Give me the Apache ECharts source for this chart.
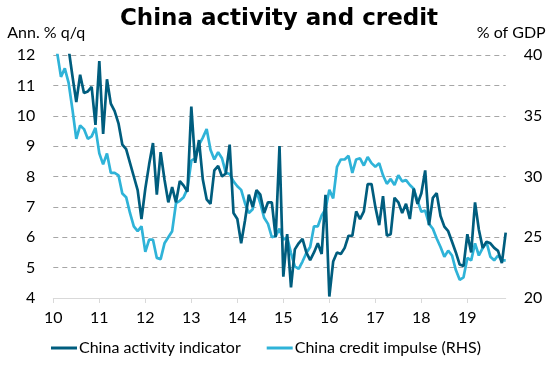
<!DOCTYPE html>
<html>
<head>
<meta charset="utf-8">
<script src="https://cdn.jsdelivr.net/npm/echarts@6/dist/echarts.min.js"></script>
<style>html,body{margin:0;padding:0;background:#fff;}#c{width:558px;height:366px;}</style>
</head>
<body>
<div id="c"></div>
<script>
var yearLabels = ['10','11','12','13','14','15','16','17','18','19'];
var lastYearMonths = 11; // Jan-Nov 2019
var activity = [14.5,14.2,13.6,12.8,12.2,11.3,10.45,11.35,10.75,10.8,10.95,9.7,
11.8,9.4,11.2,10.4,10.15,9.75,9.05,8.9,8.45,8.0,7.55,6.6,
7.6,8.4,9.1,7.4,8.8,7.9,7.15,7.65,7.15,7.85,7.7,7.5,
10.3,8.45,9.2,7.9,7.25,7.1,8.2,8.35,8.0,8.1,9.05,6.8,
6.6,5.8,6.55,7.4,7.0,7.55,7.4,6.8,7.15,7.15,6.0,9.0,
4.7,6.1,4.35,5.6,5.8,5.95,5.5,5.25,5.5,5.8,5.45,7.4,
4.05,5.2,5.5,5.45,5.65,6.05,6.05,6.85,6.6,6.85,7.75,7.75,
7.0,6.4,7.35,6.05,6.1,7.3,7.15,6.8,7.1,6.6,7.6,7.1,
7.45,8.2,6.4,7.3,7.45,6.7,6.35,6.2,5.85,5.5,5.1,5.05,
6.1,5.5,7.15,6.25,5.65,5.85,5.8,5.65,5.55,5.15,6.15];
var credit = [42.0,40.2,38.2,38.9,37.7,35.5,33.1,34.2,33.9,33.1,33.3,34.0,
31.9,31.0,31.9,30.3,30.3,30.1,28.6,28.3,27.0,25.9,25.5,25.9,
23.8,24.8,24.8,23.3,23.2,24.5,25.0,25.5,27.8,28.0,28.3,29.0,
31.3,31.5,32.6,33.2,33.9,32.2,31.4,32.0,31.5,30.3,30.2,29.6,
29.2,28.9,27.8,27.0,27.3,28.8,27.8,26.6,26.1,25.0,25.1,25.7,
24.8,25.0,23.7,22.6,22.4,23.0,23.7,24.2,25.9,25.9,26.8,27.3,
28.9,28.2,30.8,31.4,31.4,31.7,30.3,31.4,31.5,30.9,31.6,31.1,
30.8,31.1,30.1,29.4,29.8,29.3,30.1,29.6,29.7,29.3,29.0,28.0,
27.1,27.2,26.1,25.7,24.9,24.2,23.4,23.9,23.5,22.3,21.5,21.7,
23.3,23.1,24.5,23.5,24.1,24.6,23.4,23.1,23.5,23.1,23.1];
var seriesNames = ['China activity indicator','China credit impulse (RHS)'];

var categories = [];
for (var y = 0; y < yearLabels.length; y++) {
  var n = (y === yearLabels.length - 1) ? lastYearMonths : 12;
  for (var m = 0; m < n; m++) categories.push(yearLabels[y] + '-' + (m + 1));
}
var isYearStart = function (i) { return i % 12 === 0; };
var FONT = 'Lato';
var chart = echarts.init(document.getElementById('c'), null, {renderer: 'canvas'});
chart.setOption({
  animation: false,
  backgroundColor: '#fff',
  title: {
    text: 'China activity and credit',
    left: 'center', top: 3,
    textStyle: {fontFamily: 'DejaVu Sans', fontWeight: 'bold', fontSize: 23, color: '#000'}
  },
  grid: {left: 53.3, right: 52.3, top: 55, bottom: 68, containLabel: false},
  legend: {
    bottom: 5, left: 46,
    itemWidth: 26, itemHeight: 3, itemGap: 26, icon: 'rect',
    textStyle: {fontFamily: FONT, fontSize: 16, color: '#000', padding: [0, 0, 0, -3]},
    data: seriesNames
  },
  xAxis: {
    type: 'category', data: categories, boundaryGap: false,
    axisLine: {show: true, lineStyle: {color: '#d9d9d9', width: 1}},
    axisTick: {show: true, interval: isYearStart, length: 5, lineStyle: {color: '#d9d9d9'}},
    axisLabel: {interval: isYearStart, fontFamily: FONT, fontSize: 16, color: '#000', margin: 12,
      formatter: function (v) { return v.split('-')[0]; }},
    splitLine: {show: false}
  },
  yAxis: [{
    type: 'value', min: 4, max: 12, interval: 1,
    name: 'Ann. % q/q', nameLocation: 'end', nameGap: 14,
    nameTextStyle: {fontFamily: FONT, fontSize: 16, color: '#000', align: 'left', padding: [0, 0, 0, -46]},
    axisLine: {show: false}, axisTick: {show: false},
    axisLabel: {fontFamily: FONT, fontSize: 16, color: '#000', margin: 18},
    splitLine: {show: true, lineStyle: {color: '#a6a6a6', type: [5, 4], width: 1}}
  }, {
    type: 'value', min: 20, max: 40, interval: 5,
    name: '% of GDP', nameLocation: 'end', nameGap: 14,
    nameTextStyle: {fontFamily: FONT, fontSize: 16, color: '#000', align: 'right', padding: [0, -40, 0, 0]},
    axisLine: {show: false}, axisTick: {show: false},
    axisLabel: {fontFamily: FONT, fontSize: 16, color: '#000', margin: 18},
    splitLine: {show: false}
  }],
  series: [{
    name: seriesNames[0], type: 'line', yAxisIndex: 0, data: activity,
    showSymbol: false, symbol: 'none', clip: true,
    lineStyle: {color: '#005d7e', width: 2.7}, itemStyle: {color: '#005d7e'}, z: 3
  }, {
    name: seriesNames[1], type: 'line', yAxisIndex: 1, data: credit,
    showSymbol: false, symbol: 'none', clip: true,
    lineStyle: {color: '#2fb3d8', width: 2.7}, itemStyle: {color: '#2fb3d8'}, z: 2
  }]
});
</script>
</body>
</html>
